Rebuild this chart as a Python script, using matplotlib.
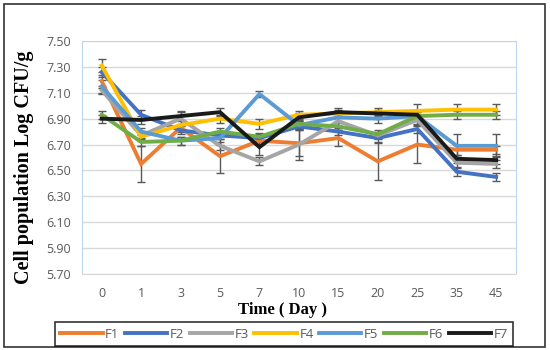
import matplotlib.pyplot as plt
from matplotlib.patches import Rectangle

days = ['0', '1', '3', '5', '7', '10', '15', '20', '25', '35', '45']
names = ['F1', 'F2', 'F3', 'F4', 'F5', 'F6', 'F7']
colors = ['#ED7D31', '#4472C4', '#A5A5A5', '#FFC000', '#5B9BD5', '#70AD47', '#1A1A1A']

f1 = [7.19, 6.55, 6.83, 6.61, 6.73, 6.71, 6.75, 6.57, 6.70, 6.66, 6.66]
f2 = [7.26, 6.93, 6.81, 6.77, 6.75, 6.84, 6.80, 6.75, 6.82, 6.49, 6.45]
f3 = [7.12, 6.77, 6.90, 6.69, 6.57, 6.70, 6.88, 6.77, 6.89, 6.56, 6.55]
f4 = [7.31, 6.76, 6.85, 6.90, 6.86, 6.93, 6.94, 6.95, 6.96, 6.97, 6.97]
f5 = [7.15, 6.80, 6.73, 6.75, 7.09, 6.85, 6.91, 6.90, 6.92, 6.69, 6.69]
f6 = [6.93, 6.72, 6.73, 6.80, 6.76, 6.86, 6.84, 6.78, 6.92, 6.93, 6.93]
f7 = [6.90, 6.89, 6.92, 6.95, 6.68, 6.91, 6.95, 6.94, 6.93, 6.59, 6.58]

e1 = [0.05, 0.14, 0.03, 0.13, 0.03, 0.10, 0.06, 0.14, 0.14, 0.04, 0.03]
e2 = [0.04, 0.04, 0.03, 0.03, 0.03, 0.03, 0.03, 0.03, 0.03, 0.03, 0.03]
e3 = [0.03, 0.03, 0.06, 0.03, 0.03, 0.12, 0.04, 0.03, 0.03, 0.03, 0.03]
e4 = [0.05, 0.03, 0.03, 0.03, 0.04, 0.03, 0.03, 0.03, 0.05, 0.04, 0.04]
e5 = [0.05, 0.03, 0.03, 0.05, 0.02, 0.03, 0.03, 0.03, 0.03, 0.09, 0.09]
e6 = [0.03, 0.03, 0.03, 0.03, 0.03, 0.03, 0.03, 0.03, 0.03, 0.03, 0.03]
e7 = [0.03, 0.03, 0.03, 0.03, 0.06, 0.03, 0.03, 0.03, 0.03, 0.03, 0.03]

series = [f1, f2, f3, f4, f5, f6, f7]
errors = [e1, e2, e3, e4, e5, e6, e7]

fig = plt.figure(figsize=(5.5, 3.5), dpi=100)
ax = fig.add_axes([0.149, 0.217, 0.789, 0.666])

x = list(range(len(days)))
handles = []
for vals, errs, name, col in zip(series, errors, names, colors):
    ax.errorbar(x, vals, yerr=errs, fmt='none', ecolor='#595959', elinewidth=1,
                capsize=3, capthick=1, zorder=2)
    line, = ax.plot(x, vals, color=col, lw=2.8, label=name, zorder=3,
                    solid_joinstyle='miter')
    handles.append(line)

ax.set_xlim(-0.5, len(days) - 0.5)
ax.set_ylim(5.70, 7.50)
ax.set_yticks([5.70 + 0.2 * i for i in range(10)])
ax.set_yticklabels(['%.2f' % (5.70 + 0.2 * i) for i in range(10)])
ax.set_xticks(x)
ax.set_xticklabels(days)
ax.tick_params(length=0, labelsize=9, colors='#595959', pad=8)
ax.tick_params(axis='x', pad=9)
for lab in ax.get_xticklabels() + ax.get_yticklabels():
    lab.set_fontfamily('Open Sans')
ax.yaxis.grid(True, color='#D9D9D9', lw=1)
ax.set_axisbelow(True)
for side in ['left', 'right', 'top']:
    ax.spines[side].set_color('#BDD7EE')
ax.spines['bottom'].set_color('#D9D9D9')

ax.set_ylabel('Cell population Log CFU/g', fontsize=14.5, fontweight='bold',
              family='Liberation Serif')
ax.yaxis.set_label_coords(-0.11, 0.46)
fig.text(0.513, 0.115, 'Time ( Day )', fontsize=12, fontweight='bold',
         family='Liberation Serif', ha='center', va='center')

leg = fig.legend(handles=handles, loc='lower left', ncol=7,
                 bbox_to_anchor=(0.1, 0.012, 0.833, 0.068), mode='expand',
                 frameon=True, fancybox=False, handlelength=3.2,
                 handletextpad=0.2, borderaxespad=0,
                 prop={'family': 'Open Sans', 'size': 9.5})
leg.get_frame().set_edgecolor('black')
leg.get_frame().set_linewidth(1.2)
for t in leg.get_texts():
    t.set_color('#595959')

fig.patches.append(Rectangle((0.008, 0.01), 0.982, 0.978, transform=fig.transFigure,
                             fill=False, edgecolor='#333333', lw=1.2))

fig.savefig('out.png', dpi=100)
